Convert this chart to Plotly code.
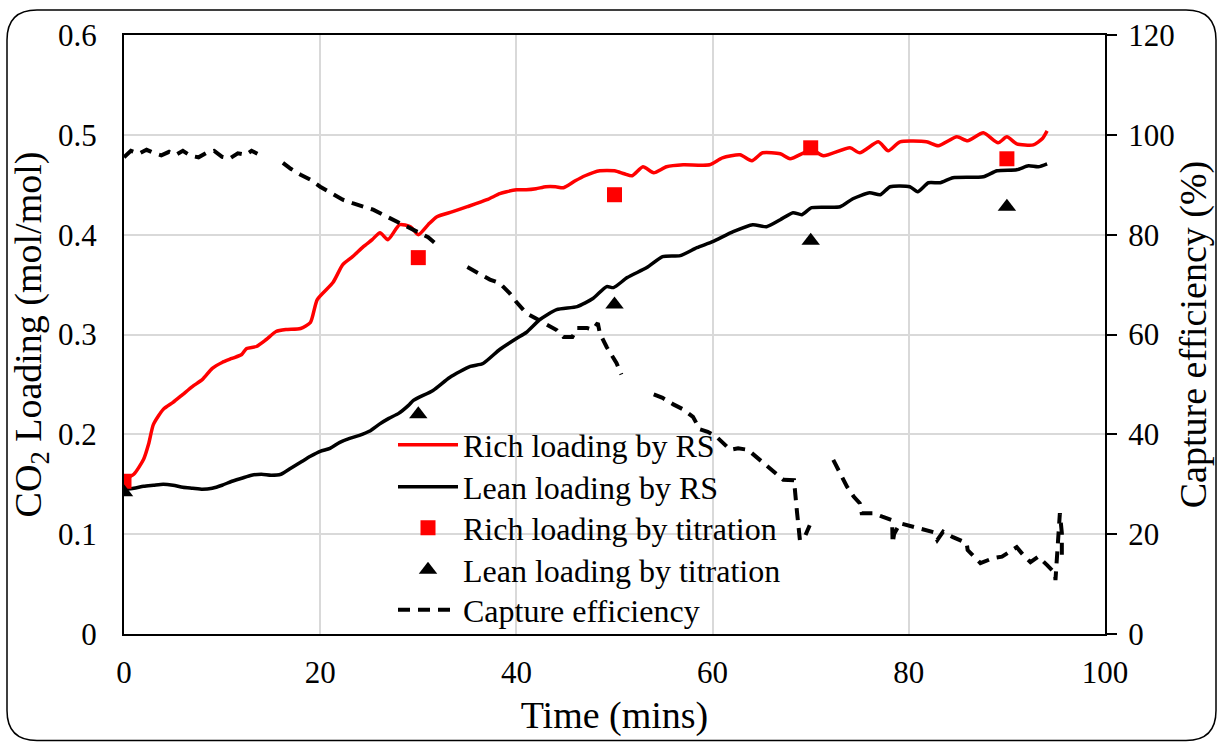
import plotly.graph_objects as go

# ---------------- data ----------------
rich_rs_t = [0, 1, 2, 2.5, 3, 4, 5, 6, 7, 8, 9, 10, 11, 12, 12.5, 13.5, 14.5, 15.5, 16.5, 18, 19,
             19.7, 21.3, 22.3, 23.3, 24.4, 25.3, 26.1, 26.9, 28.1, 29.2, 30, 31, 31.9, 33.5, 35, 37,
             38.3, 39, 40, 41, 42, 43, 44, 44.8, 46, 47, 48.5, 50, 51, 51.8, 52.9, 54, 55.3, 57,
             59.7, 61, 62.8, 64, 65.1, 66.9, 67.9, 70.1, 71.3, 74, 75, 76.9, 77.9, 79.1, 81.8, 83,
             84.9, 86, 87.6, 89.1, 90, 91, 92.7, 93.6, 94.1]
rich_rs_y = [0.155, 0.160, 0.175, 0.190, 0.210, 0.225, 0.232, 0.240, 0.248, 0.255, 0.266, 0.272, 0.276,
             0.280, 0.286, 0.288, 0.295, 0.303, 0.305, 0.306, 0.312,
             0.335, 0.352, 0.370, 0.378, 0.388, 0.395, 0.402, 0.395, 0.410, 0.408, 0.400, 0.410, 0.418,
             0.423, 0.428, 0.435, 0.441, 0.443, 0.445, 0.445, 0.446, 0.448, 0.448, 0.447, 0.454, 0.459,
             0.464, 0.464, 0.461, 0.459, 0.468, 0.462, 0.468, 0.470, 0.470, 0.477, 0.480, 0.474, 0.482,
             0.481, 0.476, 0.485, 0.479, 0.487, 0.482, 0.493, 0.484, 0.493, 0.493, 0.489, 0.498, 0.494,
             0.502, 0.492, 0.498, 0.491, 0.490, 0.496, 0.504]

lean_rs_t = [0, 1, 2, 3, 4, 5, 6, 7, 8, 9, 10, 11, 12, 13, 14, 15, 16, 17, 18, 19, 20, 21, 22, 23,
             24, 25, 26, 27, 28, 29, 29.5, 31.5, 33.2, 35.3, 36.6, 38.3, 40, 41, 42.4, 44.1, 46.2,
             47.8, 49.2, 49.9, 51.3, 53.3, 54.9, 56.7, 58.4, 60, 62.1, 64.1, 65.5, 66.9, 68.2, 69.1,
             70.1, 73, 74.3, 76, 77.1, 78.1, 80.1, 80.9, 82, 83.2, 84.5, 87.6, 89, 91, 92.2, 93.2, 94.1]
lean_rs_y = [0.145, 0.146, 0.148, 0.149, 0.150, 0.149, 0.147, 0.146, 0.145, 0.146, 0.149, 0.153, 0.156,
             0.159, 0.160, 0.159, 0.160, 0.166, 0.172, 0.178, 0.183, 0.186, 0.192, 0.196, 0.199, 0.203,
             0.210, 0.216, 0.221, 0.229, 0.234, 0.244, 0.257, 0.268, 0.271, 0.285, 0.296, 0.302, 0.315,
             0.325, 0.328, 0.336, 0.348, 0.347, 0.357, 0.367, 0.378, 0.379, 0.387, 0.393, 0.403, 0.410,
             0.408, 0.415, 0.422, 0.420, 0.427, 0.428, 0.436, 0.442, 0.440, 0.448, 0.448, 0.443, 0.452,
             0.452, 0.457, 0.458, 0.464, 0.465, 0.469, 0.468, 0.471]

titration_t = [0, 30, 50, 70, 90]
rich_titration = [0.153, 0.377, 0.440, 0.487, 0.476]
lean_titration = [0.142, 0.220, 0.330, 0.394, 0.428]

eff_t = [0, 0.7, 1.5, 2.3, 3, 3.8, 4.6, 5.3, 6, 6.8, 7.6, 8.4, 9.2, 10, 10.8, 11.6, 12.4, 13, 13.6,
         15,
         16.2, 17, 18, 19, 20, 21, 22.3, 23.3, 24.4, 25.4, 26.4, 27.2, 28.1, 29.2, 30.2, 31, 31.9,
         33.5,
         35, 36, 37.3, 38.3, 39.3, 40, 41, 42, 42.7, 44.1, 44.8, 45.7, 46.2, 47.2, 47.8, 48.3, 48.5,
         49.2, 50.2, 50.7,
         52.3,
         54, 54.9, 56, 57, 58, 58.7, 59.5, 60.4, 61.8, 62.6, 63.6, 64.8, 65.6, 66.5, 67.2, 68.3,
         68.4, 68.6, 68.9, 69.4, 69.9,
         71,
         72.3, 72.8, 73.7, 74.4, 75, 75.2, 76.4, 77.3, 78.3, 78.35, 78.5, 79.1, 80.8, 82.5, 82.9,
         83.5, 84.5, 85.9, 86, 87.3, 88.6, 89.5, 91, 91.8, 92.4, 93.2, 94.1, 94.9, 94.95, 95.2,
         95.4, 95.6, 95.6]
eff_y = [95.5, 96.8, 96.2, 97.0, 96.4, 95.9, 96.6, 96.0, 96.8, 95.8, 95.5, 96.4, 96.8, 95.6, 95.3,
         96.3, 96.0, 96.8, 96.2,
         None,
         94.4, 93.2, 92.0, 91.0, 89.6, 88.5, 87.0, 86.3, 85.6, 85.0, 84.0, 83.2, 82.4, 81.3, 80.4,
         79.5, 78.0,
         None,
         73.5, 72.5, 71.0, 70.3, 68.3, 66.5, 64.3, 63.2, 62.5, 60.9, 59.5, 59.5, 61.3, 61.3, 61.0,
         62.3, 60.3, 57.5, 54.3, 52.0,
         None,
         48.0, 47.3, 46.0, 45.0, 43.5, 41.0, 40.5, 39.5, 36.9, 37.2, 36.9, 34.9, 33.5, 31.9, 30.9,
         30.8, 28.0, 24.5, 18.8, 19.5, 21.8,
         None,
         34.9, 32.9, 29.5, 27.5, 26.2, 24.2, 24.2, 23.5, 22.8, 18.2, 20.0, 22.2, 21.4, 20.4, 18.8,
         20.5, 19.4, 18.2, 16.8, 14.2, 15.2, 15.5, 17.4, 15.5, 14.4, 15.5, 13.8, 12.2, 10.8, 17.0,
         24.2, 20.2, 15.4]

x_ticks = [0, 20, 40, 60, 80, 100]
y_ticks = [0, 0.1, 0.2, 0.3, 0.4, 0.5, 0.6]
y2_ticks = [0, 20, 40, 60, 80, 100, 120]

# ---------------- figure ----------------
W, H = 1218, 742
ML, MR, MT, MB = 124, 113, 35, 108
PW, PH = W - ML - MR, H - MT - MB
FONT = "Liberation Serif"
FS = 32


def px(xp):
    return (xp - ML) / PW


def py(yp):
    return (MT + PH - yp) / PH


fig = go.Figure()
fig.add_trace(go.Scatter(x=rich_rs_t, y=rich_rs_y, mode="lines", name="Rich loading by RS",
                         legend="legend",
                         line=dict(color="#ff0000", width=3.5, shape="spline", smoothing=0.6)))
fig.add_trace(go.Scatter(x=lean_rs_t, y=lean_rs_y, mode="lines", name="Lean loading by RS",
                         legend="legend2",
                         line=dict(color="#000000", width=3.5, shape="spline", smoothing=0.6)))
fig.add_trace(go.Scatter(x=titration_t, y=rich_titration, mode="markers", name="Rich loading by titration",
                         legend="legend3",
                         marker=dict(symbol="square", size=15, color="#ff0000")))
fig.add_trace(go.Scatter(x=titration_t, y=lean_titration, mode="markers", name="Lean loading by titration",
                         legend="legend4",
                         marker=dict(symbol="triangle-up", size=16, color="#000000")))
fig.add_trace(go.Scatter(x=eff_t, y=eff_y, mode="lines", name="Capture efficiency", yaxis="y2",
                         legend="legend5", connectgaps=False,
                         line=dict(color="#000000", width=4, dash="12px,8px")))

# rounded outer border of chart area
x0, x1, y0, y1, r = 7, 1216, 10, 740.5, 30
pts = (f"M {px(x0 + r)},{py(y0)} L {px(x1 - r)},{py(y0)} Q {px(x1)},{py(y0)} {px(x1)},{py(y0 + r)} "
       f"L {px(x1)},{py(y1 - r)} Q {px(x1)},{py(y1)} {px(x1 - r)},{py(y1)} "
       f"L {px(x0 + r)},{py(y1)} Q {px(x0)},{py(y1)} {px(x0)},{py(y1 - r)} "
       f"L {px(x0)},{py(y0 + r)} Q {px(x0)},{py(y0)} {px(x0 + r)},{py(y0)} Z")
fig.add_shape(type="path", xref="paper", yref="paper", path=pts,
              line=dict(color="#000000", width=1.5), layer="below")

row_centers = [445, 487, 528, 570, 610]
legend_names = ["legend", "legend2", "legend3", "legend4", "legend5"]
legend_cfg = {}
for name, yc in zip(legend_names, row_centers):
    legend_cfg[name] = dict(x=px(393), y=py(yc), xanchor="left", yanchor="middle",
                            bgcolor="rgba(0,0,0,0)", font=dict(family=FONT, size=FS),
                            itemwidth=60)

fig.update_layout(
    width=W, height=H,
    margin=dict(l=ML, r=MR, t=MT, b=MB, autoexpand=False),
    paper_bgcolor="white", plot_bgcolor="white",
    font=dict(family=FONT, size=FS, color="#000000"),
    showlegend=True,
    **legend_cfg,
    xaxis=dict(range=[0, 100], tickvals=x_ticks, showgrid=True, gridcolor="#d9d9d9", gridwidth=1.5,
               showline=True, linecolor="#000000", linewidth=2, mirror=True, zeroline=False,
               ticks="", ticklabelstandoff=10, automargin=False, tickfont=dict(size=31),
               title=dict(text="Time (mins)", standoff=12)),
    yaxis=dict(range=[0, 0.6], tickvals=y_ticks, showgrid=True, gridcolor="#d9d9d9", gridwidth=1.5,
               showline=True, linecolor="#000000", linewidth=2, zeroline=False,
               ticks="", ticklabelstandoff=19, automargin=False, tickfont=dict(size=31),
               title=dict(text="CO<sub>2</sub> Loading (mol/mol)", standoff=5)),
    yaxis2=dict(range=[0, 120], tickvals=y2_ticks, overlaying="y", side="right", showgrid=False,
                showline=True, linecolor="#000000", linewidth=2, zeroline=False,
                ticks="outside", ticklen=10, tickwidth=2, tickcolor="#000000", ticklabelstandoff=5,
                automargin=False, tickfont=dict(size=31),
                title=dict(text="Capture efficiency (%)", standoff=6)),
)

fig.write_html("out.html")
